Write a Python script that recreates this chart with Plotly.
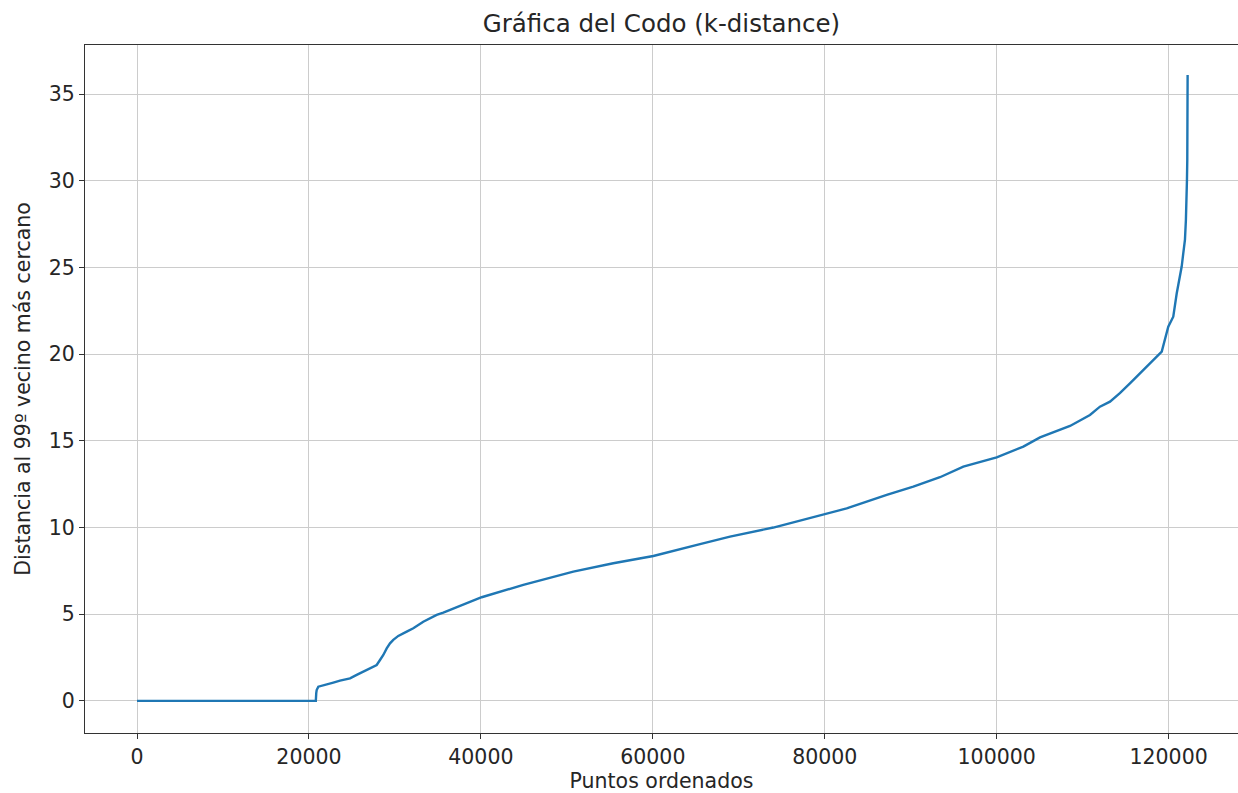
import plotly.graph_objects as go

# Sorted k-distance curve
puntos = [0, 20800, 20850, 20900, 21090, 22070, 22835, 23610, 24780, 25555, 26320,
          27100, 27880, 28265, 28650, 29045, 29430, 29810, 30395, 31370, 32140,
          33300, 34080, 34860, 35630, 36410, 40095, 44935, 50750, 55400, 60060,
          65490, 68980, 74020, 80030, 82550, 87210, 90300, 93400, 96120, 100000,
          103100, 105040, 108530, 110850, 112010, 113180, 114330, 115500, 116290,
          117450, 119200, 119960, 120540, 120940, 121520, 121700, 121900, 122010,
          122100, 122130, 122170, 122210]
distancia = [0.0, 0.0, 0.45, 0.63, 0.82, 0.98, 1.06, 1.17, 1.3, 1.5, 1.69,
             1.88, 2.07, 2.36, 2.65, 3.03, 3.32, 3.52, 3.75, 4.0, 4.19,
             4.57, 4.76, 4.96, 5.09, 5.25, 5.98, 6.69, 7.46, 7.94, 8.36,
             9.04, 9.48, 10.0, 10.78, 11.1, 11.88, 12.36, 12.9, 13.51, 14.05,
             14.67, 15.2, 15.86, 16.49, 16.97, 17.26, 17.75, 18.32, 18.7,
             19.28, 20.15, 21.58, 22.16, 23.5, 25.05, 25.8, 26.6, 27.74,
             28.9, 30.0, 31.2, 36.1]

x_ticks = [0, 20000, 40000, 60000, 80000, 100000, 120000]
y_ticks = [0, 5, 10, 15, 20, 25, 30, 35]

fig = go.Figure()
fig.add_trace(go.Scatter(x=puntos, y=distancia, mode="lines",
                         line=dict(color="#1f77b4", width=2.4),
                         showlegend=False))

font = "DejaVu Sans, sans-serif"
fig.update_layout(
    width=1238, height=793,
    margin=dict(l=85, r=0, t=45, b=60),
    paper_bgcolor="white", plot_bgcolor="white",
    font=dict(family=font, size=20, color="#262626"),
    title=dict(text="Gráfica del Codo (k-distance)", x=0.5, xref="paper", xanchor="center",
               y=1 - 23 / 793, yanchor="middle", font=dict(size=24.5, color="#262626")),
)
fig.update_xaxes(
    range=[-6050, 128070], tickvals=x_ticks, ticktext=[str(v) for v in x_ticks],
    showgrid=True, gridcolor="#cccccc", gridwidth=1.2, zeroline=False,
    showline=True, linecolor="#333333", linewidth=1.3, mirror=True,
    ticks="outside", ticklen=5, tickcolor="#333333", tickfont=dict(size=20.5),
    title=dict(text="Puntos ordenados", font=dict(size=20.5), standoff=7),
)
fig.update_yaxes(
    range=[-1.85, 37.83], tickvals=y_ticks, ticktext=[str(v) for v in y_ticks],
    showgrid=True, gridcolor="#cccccc", gridwidth=1.2, zeroline=False,
    showline=True, linecolor="#333333", linewidth=1.3, mirror=False,
    ticks="outside", ticklen=5, tickcolor="#333333", tickfont=dict(size=20.5),
    title=dict(text="Distancia al 99º vecino más cercano", font=dict(size=20.5), standoff=12),
)

fig.write_html("out.html")
